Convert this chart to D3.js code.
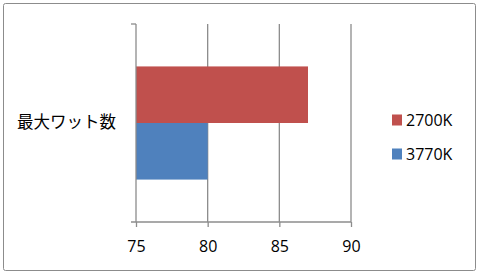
<!DOCTYPE html>
<html>
<head>
<meta charset="utf-8">
<script src="https://cdn.jsdelivr.net/npm/d3@7"></script>
<style>
  body { margin: 0; background: #fff; }
  text { font-family: "Noto Sans CJK JP", "Open Sans", sans-serif; fill: #000; }
</style>
</head>
<body>
<div class="chart"></div>
<script>
const categories = ["最大ワット数"]
const seriesNames = ["2700K", "3770K"]
const seriesValues = [87, 80]
const colors = ["#c0504d", "#4f81bd"]
const xTicks = [75, 80, 85, 90]

const W = 480, H = 275
const margin = { top: 24, left: 136, right: 129, bottom: 53 }
const width = W - margin.left - margin.right,
  height = H - margin.top - margin.bottom

const svg = d3.select(".chart").append("svg")
  .attr("width", W)
  .attr("height", H)

// outer frame
svg.append("rect")
  .attr("x", 3.5).attr("y", 3.5)
  .attr("width", W - 8).attr("height", H - 8)
  .attr("rx", 2)
  .attr("fill", "#fff")
  .attr("stroke", "#8c8c8c")

const g = svg.append("g")
  .attr("transform", "translate(" + margin.left + "," + margin.top + ")")

const x = d3.scaleLinear().domain([75, 90]).range([0, width])
const y = d3.scaleBand().domain(categories).range([0, height])
const ySub = d3.scaleBand().domain(seriesNames).range([0, y.bandwidth()]).paddingOuter(0.75)

// vertical gridlines
g.selectAll(".grid")
  .data(xTicks.slice(1))
  .enter().append("line")
  .attr("x1", d => x(d)).attr("x2", d => x(d))
  .attr("y1", 0).attr("y2", height)
  .attr("stroke", "#8c8c8c")
  .attr("stroke-width", 1.3)

// bars
categories.forEach(c => {
  g.selectAll(".bar")
    .data(seriesNames.map((s, i) => ({ s: s, v: seriesValues[i], i: i })))
    .enter().append("rect")
    .attr("x", x(75))
    .attr("y", d => y(c) + ySub(d.s))
    .attr("width", d => x(d.v) - x(75))
    .attr("height", ySub.bandwidth())
    .attr("fill", d => colors[d.i])
})

// x axis
const xAxis = g.append("g")
  .attr("transform", "translate(0," + height + ")")
  .call(d3.axisBottom(x).tickValues(xTicks).tickSize(5).tickPadding(14))
xAxis.select(".domain").attr("stroke", "#8c8c8c").attr("stroke-width", 1.3)
  .attr("d", "M-5,0H" + width)
xAxis.selectAll(".tick line").attr("stroke", "#8c8c8c").attr("stroke-width", 1.3)
xAxis.selectAll("text").style("font-size", "16px").style("font-family", "'Open Sans', sans-serif")

// y axis
const yAxis = g.append("g")
  .call(d3.axisLeft(y).tickSize(0).tickPadding(20))
yAxis.select(".domain").attr("stroke", "#8c8c8c").attr("stroke-width", 1.3)
  .attr("d", "M0,0V" + height)
yAxis.selectAll("text").style("font-size", "16.5px")
yAxis.append("line")
  .attr("x1", -5).attr("x2", 0).attr("y1", 0).attr("y2", 0)
  .attr("stroke", "#8c8c8c").attr("stroke-width", 1.3)

// legend
const legend = svg.selectAll(".legend")
  .data(seriesNames)
  .enter().append("g")
  .attr("class", "legend")
  .attr("transform", (d, i) => "translate(392," + (120 + i * 34) + ")")

legend.append("rect")
  .attr("x", 0).attr("y", -5.5)
  .attr("width", 10).attr("height", 11)
  .attr("fill", (d, i) => colors[i])

legend.append("text")
  .attr("x", 14).attr("y", 0)
  .attr("dy", "0.35em")
  .style("font-size", "16px")
  .style("font-family", "'Open Sans', sans-serif")
  .text(d => d)
</script>
</body>
</html>
